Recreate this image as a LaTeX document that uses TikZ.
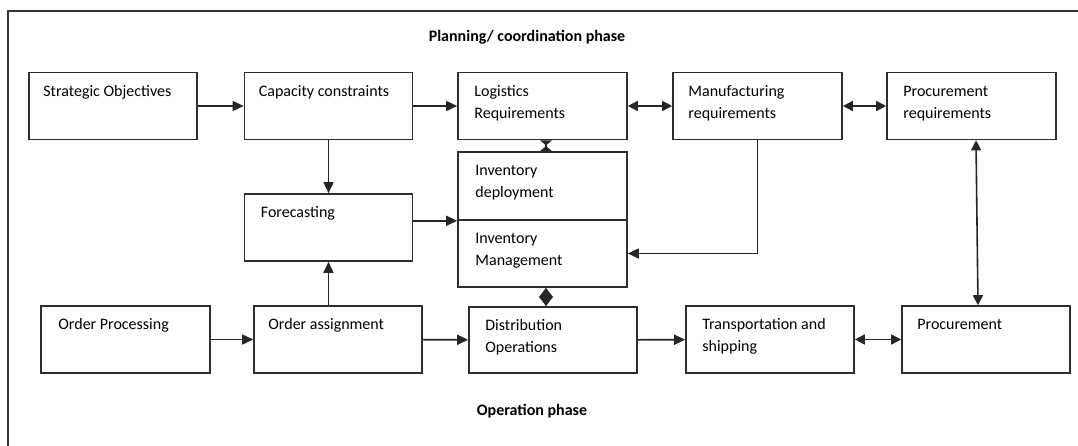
\documentclass[tikz,border=0pt]{standalone}
\usepackage{fontspec}
\setmainfont{Carlito}
\usetikzlibrary{arrows.meta,calc}
\begin{document}
\begin{tikzpicture}[x=1pt,y=-1pt,
  blk/.style={draw=black!82, line width=1.6pt, rectangle, inner sep=0pt,
              minimum width=168pt, minimum height=67pt},
  txt/.style={anchor=north west, inner sep=0pt, align=left,
              font=\fontsize{16}{22}\selectfont},
  ttl/.style={inner sep=0pt, font=\fontsize{16}{20}\selectfont\bfseries},
  arr/.style={-{Triangle[length=11pt,width=10pt]}, line width=1.6pt, draw=black!85},
  dbl/.style={{Triangle[length=10pt,width=10pt]}-{Triangle[length=10pt,width=10pt]},
              line width=1.6pt, draw=black!85},
  dbldia/.style={{Triangle[length=9.6pt,width=14pt]}-{Triangle[length=9.6pt,width=14pt]},
              line width=1.6pt, draw=black!85},
  dblbow/.style={{Triangle[reversed,length=5pt,width=12pt]}-{Triangle[reversed,length=5pt,width=12pt]},
              line width=1.6pt, draw=black!85}
]
\useasboundingbox (0,0) rectangle (1078,446);

% outer frame (top and left edges)
\draw[line width=1.6pt, black!80] (1078,11) -- (8,11) -- (8,446);

% phase titles
\node[ttl] (t1) at (527,37) {Planning/ coordination phase};
\node[ttl] (t2) at (532,411) {Operation phase};

% planning row
\node[blk] (so) at (113,106) {};
\node[blk] (cc) at (328.5,106) {};
\node[blk, minimum width=169pt] (lr) at (542.5,106) {};
\node[blk, minimum width=169pt] (mr) at (757.5,106) {};
\node[blk, minimum width=169pt] (pr) at (971.5,106) {};

% inventory stack and forecasting
\node[blk, minimum width=169pt, minimum height=68pt] (id) at (542.5,186) {};
\node[blk, minimum width=169pt] (im) at (542.5,253.5) {};
\node[blk] (fc) at (328.5,227.5) {};

% operation row
\node[blk, minimum width=169pt] (op) at (125.5,339.5) {};
\node[blk] (oa) at (338,339.5) {};
\node[blk, minimum height=66pt] (do) at (553,340) {};
\node[blk] (ts) at (770,339.5) {};
\node[blk] (pc) at (986,339.5) {};

% box texts
\node[txt] (so-t) at ([shift={(15,9)}]so.north west) {\strut Strategic Objectives};
\node[txt] (cc-t) at ([shift={(15,9)}]cc.north west) {\strut Capacity constraints};
\node[txt] (lr-t) at ([shift={(17,9)}]lr.north west) {\strut Logistics\\Requirements};
\node[txt] (mr-t) at ([shift={(16,9)}]mr.north west) {\strut Manufacturing\\requirements};
\node[txt] (pr-t) at ([shift={(17,9)}]pr.north west) {\strut Procurement\\requirements};
\node[txt] (id-t) at ([shift={(18,9)}]id.north west) {\strut Inventory\\deployment};
\node[txt] (im-t) at ([shift={(18,9)}]im.north west) {\strut Inventory\\Management};
\node[txt] (fc-t) at ([shift={(17,9)}]fc.north west) {\strut Forecasting};
\node[txt] (op-t) at ([shift={(18,9)}]op.north west) {\strut Order Processing};
\node[txt] (oa-t) at ([shift={(15,9)}]oa.north west) {\strut Order assignment};
\node[txt] (do-t) at ([shift={(17,9)}]do.north west) {\strut Distribution\\Operations};
\node[txt] (ts-t) at ([shift={(17,9)}]ts.north west) {\strut Transportation and\\shipping};
\node[txt] (pc-t) at ([shift={(16,9)}]pc.north west) {\strut Procurement};

% planning connectors
\draw[arr] (so) -- (cc);
\draw[arr] (cc) -- (lr);
\draw[dbl] (lr) -- (mr);
\draw[dbl] (mr) -- (pr);
\draw[arr] (cc) -- (fc);
\draw[arr] (fc.east |- id.south) -- (id.south west);
\draw[arr] (mr.south) |- (im.east);
\draw[dblbow] ($(lr.south)+(3.5,0)$) -- ($(id.north)+(3.5,0)$);
\draw[dbl] ($(pr.south)+(4.5,0)$) -- ($(pc.north)+(-8,0)$);

% operation connectors
\draw[dbldia] ($(im.south)+(3.5,0)$) -- ($(do.north)+(-7,0)$);
\draw[arr] (op) -- (oa);
\draw[arr] (oa) -- (do);
\draw[arr] (do) -- (ts);
\draw[dbl] (ts) -- (pc);
\draw[arr] (oa.north -| fc.south) -- (fc.south);
\end{tikzpicture}
\end{document}
